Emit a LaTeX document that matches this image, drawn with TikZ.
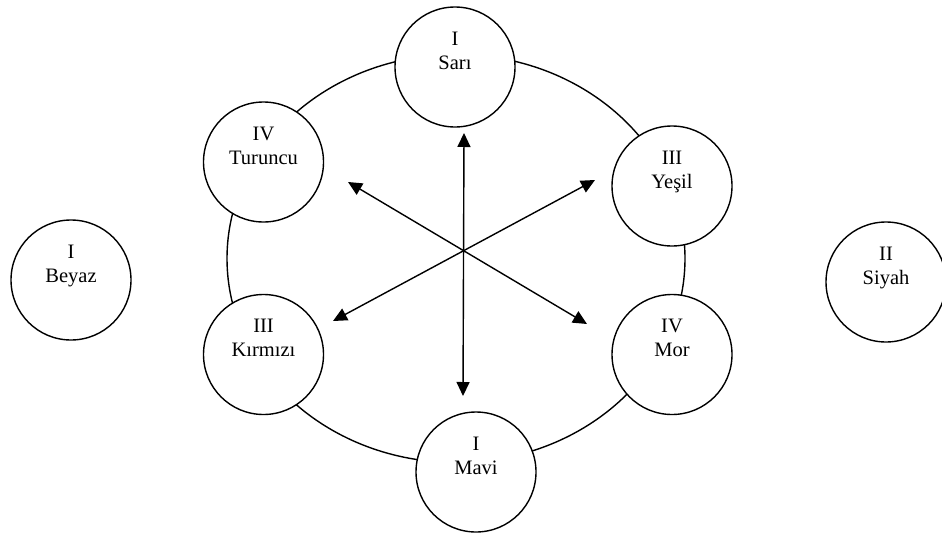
\documentclass[tikz,border=0pt]{standalone}
\usepackage{fontspec}
\setmainfont{Liberation Serif}
\usetikzlibrary{arrows.meta}

\begin{document}
\begin{tikzpicture}[x=1pt,y=-1pt]
    \useasboundingbox (0,0) rectangle (942,533);
    \draw[line width=1.4pt] (456,258.5) ellipse [x radius=229, y radius=204];
    \begin{scope}[every node/.style={circle,draw,line width=1.4pt,fill=white,minimum size=120pt,inner sep=2pt,align=center,font=\fontsize{20.5}{24}\selectfont,text height=38pt,text depth=34pt}]
      \node (sari) at (455,67) {I\\Sarı};
      \node (turuncu) at (263.5,162) {IV\\Turuncu};
      \node (yesil) at (672,186) {III\\Yeşil};
      \node (kirmizi) at (263.5,354.5) {III\\Kırmızı};
      \node (mor) at (672,354.5) {IV\\Mor};
      \node (mavi) at (476,472) {I\\Mavi};
      \node (beyaz) at (71,280) {I\\Beyaz};
      \node (siyah) at (886,282) {II\\Siyah};
    \end{scope}
    \coordinate (up) at (464,133);
    \coordinate (down) at (463,396);
    \coordinate (ul) at (348,182);
    \coordinate (lr) at (587,324);
    \coordinate (ur) at (595,180);
    \coordinate (ll) at (333,321);
    \begin{scope}[every edge/.style={draw=black,line width=1.4pt,{Triangle[length=14pt,width=13pt]}-{Triangle[length=14pt,width=13pt]}}]
      \path (up) edge (down);
      \path (ul) edge (lr);
      \path (ur) edge (ll);
    \end{scope}
\end{tikzpicture}
\end{document}
